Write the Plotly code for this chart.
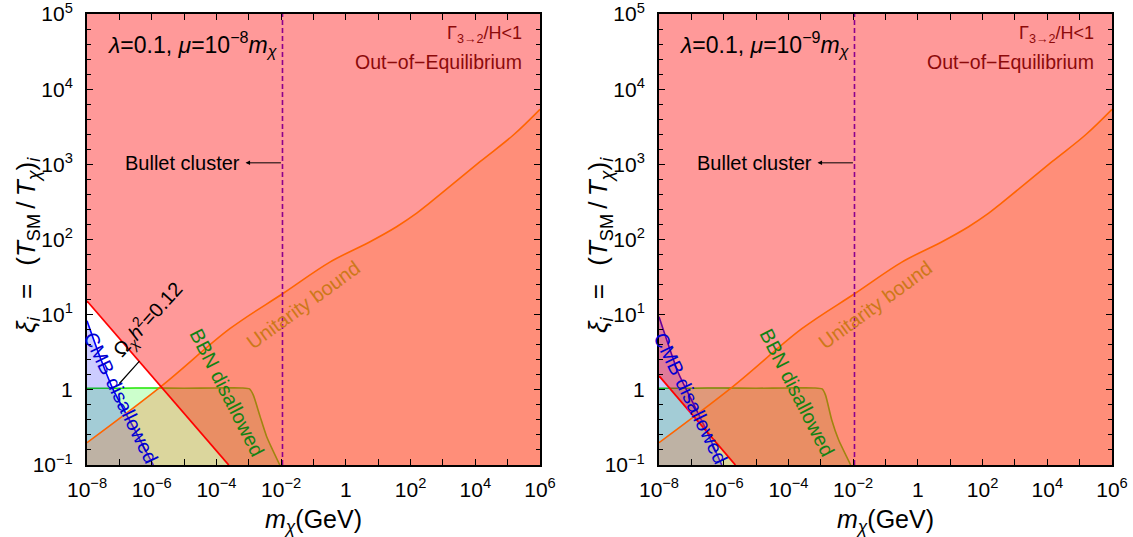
import plotly.graph_objects as go

# ---------------- data ----------------
X_MIN, X_MAX = 1e-8, 1e6
Y_MIN, Y_MAX = 0.1, 1e5

# relic abundance line  Omega h^2 = 0.12
relic_m_L = [1e-8, 2.4e-4]
relic_xi_L = [15.2, 0.1]
relic_m_R = [1e-8, 2.3e-6]
relic_xi_R = [1.53, 0.1]

# unitarity bound (same in both panels)
unit_m = [1e-8, 2e-6, 2.6e-4, 0.012, 0.32, 5.6, 37, 155, 400, 1.4e4, 1.5e5, 1e6]
unit_xi = [0.198, 1.12, 6.5, 19.4, 50, 93.5, 148, 224, 309, 1084, 2455, 5400]

# BBN disallowed boundary
bbn_m_L = [1e-8, 1e-7, 1e-6, 1e-5, 1e-4, 6e-4, 1.05e-3, 1.38e-3, 2.24e-3, 3.55e-3, 9.1e-3]
bbn_xi_L = [1.05, 1.05, 1.06, 1.05, 1.06, 1.06, 1.03, 0.85, 0.44, 0.24, 0.1]
bbn_m_R = [1e-8, 1e-7, 1e-6, 1e-5, 1e-4, 6e-4, 1.1e-3, 1.4e-3, 2.17e-3, 3.5e-3, 8.4e-3]
bbn_xi_R = [1.05, 1.05, 1.06, 1.05, 1.06, 1.06, 1.03, 0.85, 0.40, 0.22, 0.1]

# CMB disallowed boundary
cmb_m_L = [1e-8, 2.5e-8, 6.5e-8, 2.7e-7, 1.12e-6]
cmb_xi_L = [8.3, 2.76, 1.0, 0.32, 0.1]
cmb_m_R = [1e-8, 4e-8, 1.02e-7, 2.6e-7, 8.7e-7]
cmb_xi_R = [9.4, 1.66, 0.73, 0.32, 0.1]

# Bullet cluster bound
bullet_m = 0.011

# ticks
x_tickvals = [1e-8, 1e-6, 1e-4, 1e-2, 1, 1e2, 1e4, 1e6]
x_ticktext = ["10<sup>−8</sup>", "10<sup>−6</sup>", "10<sup>−4</sup>", "10<sup>−2</sup>",
              "1", "10<sup>2</sup>", "10<sup>4</sup>", "10<sup>6</sup>"]
x_minor = [1e-7, 1e-5, 1e-3, 1e-1, 1e1, 1e3, 1e5]
y_tickvals = [0.1, 1, 10, 100, 1e3, 1e4, 1e5]
y_ticktext = ["10<sup>−1</sup>", "1", "10<sup>1</sup>", "10<sup>2</sup>",
              "10<sup>3</sup>", "10<sup>4</sup>", "10<sup>5</sup>"]
y_minor = [10 ** (k + 0.2 * j) for k in range(-1, 5) for j in range(1, 5)]

mu_labels = ["10<sup>−8</sup>", "10<sup>−9</sup>"]
y_title = ("<i>ξ<sub>i</sub></i>\u2002\u2009=\u2002\u2009(<i>T</i><sub>SM</sub>\u2009/\u2009"
           "<i>T<sub>χ</sub></i>)<sub><i>i</i></sub>")

# ---------------- styling ----------------
FONT = "Liberation Sans, Arial, sans-serif"
PINK = "rgba(255,0,0,0.4)"
ORANGE_FILL = "rgba(255,120,50,0.3)"
GREEN_FILL = "rgba(0,255,0,0.2)"
BLUE_FILL = "rgba(0,0,255,0.2)"

fig = go.Figure()

panels = [
    dict(xa="x", ya="y", relic=(relic_m_L, relic_xi_L), bbn=(bbn_m_L, bbn_xi_L),
         cmb=(cmb_m_L, cmb_xi_L)),
    dict(xa="x2", ya="y2", relic=(relic_m_R, relic_xi_R), bbn=(bbn_m_R, bbn_xi_R),
         cmb=(cmb_m_R, cmb_xi_R)),
]

for p in panels:
    xa, ya = p["xa"], p["ya"]
    common = dict(xaxis=xa, yaxis=ya, showlegend=False, hoverinfo="skip")
    bm, bx = p["bbn"]
    cm, cx = p["cmb"]
    rm, rx = p["relic"]
    # BBN region
    fig.add_trace(go.Scatter(x=[X_MIN, bm[-1]], y=[Y_MIN, Y_MIN], mode="lines",
                             line=dict(width=0), **common))
    fig.add_trace(go.Scatter(x=bm, y=bx, mode="lines", fill="tonexty", fillcolor=GREEN_FILL,
                             line=dict(color="rgb(30,230,0)", width=1.6, shape="spline",
                                       smoothing=0.6), **common))
    # CMB region
    fig.add_trace(go.Scatter(x=[X_MIN, cm[-1]], y=[Y_MIN, Y_MIN], mode="lines",
                             line=dict(width=0), **common))
    fig.add_trace(go.Scatter(x=cm, y=cx, mode="lines", fill="tonexty", fillcolor=BLUE_FILL,
                             line=dict(color="rgb(0,0,255)", width=1.6, shape="spline",
                                       smoothing=0.6), **common))
    # out-of-equilibrium region (above relic line)
    fig.add_trace(go.Scatter(x=[X_MIN, rm[0], rm[1], X_MAX, X_MAX, X_MIN],
                             y=[Y_MAX, rx[0], rx[1], Y_MIN, Y_MAX, Y_MAX],
                             mode="lines", fill="toself", fillcolor=PINK,
                             line=dict(width=0), **common))
    # unitarity region
    fig.add_trace(go.Scatter(x=[X_MIN, X_MAX], y=[Y_MIN, Y_MIN], mode="lines",
                             line=dict(width=0), **common))
    fig.add_trace(go.Scatter(x=unit_m, y=unit_xi, mode="lines", fill="tonexty",
                             fillcolor=ORANGE_FILL,
                             line=dict(color="rgb(255,100,0)", width=1.6, shape="spline",
                                       smoothing=1.0), **common))
    # relic line
    fig.add_trace(go.Scatter(x=rm, y=rx, mode="lines",
                             line=dict(color="rgb(255,0,0)", width=1.8), **common))
    # bullet cluster line
    fig.add_trace(go.Scatter(x=[bullet_m, bullet_m], y=[Y_MIN, Y_MAX], mode="lines",
                             line=dict(color="rgb(140,0,140)", width=1.6, dash="5px,3px"),
                             **common))


def xaxis(domain, anchor):
    return dict(type="log", range=[-8, 6], domain=domain, anchor=anchor, automargin=False,
                showline=True, linecolor="black", linewidth=2, mirror="allticks",
                ticks="inside", ticklen=6, tickwidth=1.3, tickcolor="black",
                tickmode="array", tickvals=x_tickvals, ticktext=x_ticktext,
                tickfont=dict(family=FONT, size=21, color="black"),
                ticklabeloverflow="allow", ticklabelstandoff=5,
                showgrid=False, zeroline=False,
                minor=dict(tickmode="array", tickvals=x_minor, ticks="inside", ticklen=6,
                           tickwidth=1.3, tickcolor="black", showgrid=False),
                title=dict(text="<i>m<sub>χ</sub></i>(GeV)",
                           font=dict(family=FONT, size=25, color="black"), standoff=10))


def yaxis(anchor):
    return dict(type="log", range=[-1, 5], domain=[0.13408, 0.97393], anchor=anchor,
                automargin=False,
                showline=True, linecolor="black", linewidth=2, mirror="allticks",
                ticks="inside", ticklen=6, tickwidth=1.3, tickcolor="black",
                tickmode="array", tickvals=y_tickvals, ticktext=y_ticktext,
                tickfont=dict(family=FONT, size=21, color="black"),
                ticklabeloverflow="allow", ticklabelstandoff=8,
                showgrid=False, zeroline=False,
                minor=dict(tickmode="array", tickvals=y_minor, ticks="inside", ticklen=4,
                           tickwidth=1.1, tickcolor="black", showgrid=False))


annotations = []
# y axis titles (placed in paper coordinates)
for xp in [0.0247, 0.5296]:
    annotations.append(dict(xref="paper", yref="paper", x=xp, y=0.5438, showarrow=False,
                            xanchor="center", yanchor="middle", textangle=-90,
                            text=y_title, font=dict(family=FONT, size=26, color="black")))

for i, (xr, yr) in enumerate([("x", "y"), ("x2", "y2")]):
    def A(**kw):
        d = dict(xref=xr, yref=yr, showarrow=False,
                 font=dict(family=FONT, size=20, color="black"))
        f = kw.pop("font", None)
        if f:
            d["font"] = dict(d["font"], **f)
        d.update(kw)
        annotations.append(d)

    A(x=-7.45, y=4.6, xanchor="left", yanchor="middle",
      text="<i>λ</i>=0.1, <i>μ</i>=" + mu_labels[i] + "<i>m<sub>χ</sub></i>",
      font=dict(size=23))
    A(x=5.5, y=4.73, xanchor="right", yanchor="middle",
      text="Γ<sub>3→2</sub>/H&lt;1", font=dict(size=18, color="rgb(140,10,10)"))
    A(x=5.5, y=4.36, xanchor="right", yanchor="middle",
      text="Out−of−Equilibrium", font=dict(size=19.5, color="rgb(140,10,10)"))
    A(x=-3.2, y=3.02, xanchor="right", yanchor="middle", text="Bullet cluster",
      font=dict(size=20))
    annotations.append(dict(xref=xr, yref=yr, axref=xr, ayref=yr, x=-3.1, y=3.02,
                            ax=-1.96, ay=3.02, text="", showarrow=True, arrowhead=2,
                            arrowsize=0.9, arrowwidth=1, arrowcolor="black"))
    A(x=-1.32, y=1.13, text="Unitarity bound", textangle=-36,
      font=dict(size=20, color="rgb(205,120,25)"))
    A(x=[-3.66, -3.72][i], y=-0.04, text="BBN disallowed", textangle=63,
      font=dict(size=20, color="rgb(20,130,20)"))
    A(x=[-6.95, -7.03][i], y=-0.11, text="CMB disallowed", textangle=64,
      font=dict(size=20, color="rgb(0,0,210)"))

# relic label in left panel
annotations.append(dict(xref="x", yref="y", x=-6.12, y=0.93, showarrow=False,
                        text="Ω<sub><i>χ</i></sub><i>h</i><sup>2</sup>=0.12", textangle=-48,
                        font=dict(family=FONT, size=20, color="black")))
annotations.append(dict(xref="x", yref="y", axref="x", ayref="y", x=-6.38, y=0.383,
                        ax=-7.04, ay=0.064, text="", showarrow=True, arrowhead=0,
                        arrowwidth=1.2, arrowcolor="black"))

fig.update_layout(
    width=1133, height=537,
    margin=dict(l=0, r=0, t=0, b=0, pad=0),
    paper_bgcolor="white", plot_bgcolor="white",
    xaxis=xaxis([0.07679, 0.47661], "y"),
    yaxis=yaxis("x"),
    xaxis2=xaxis([0.58164, 0.98147], "y2"),
    yaxis2=yaxis("x2"),
    annotations=annotations,
    showlegend=False,
)

fig.write_html("out.html", config={"displayModeBar": False},
               post_script="document.body.style.margin='0';document.body.style.padding='0';")
